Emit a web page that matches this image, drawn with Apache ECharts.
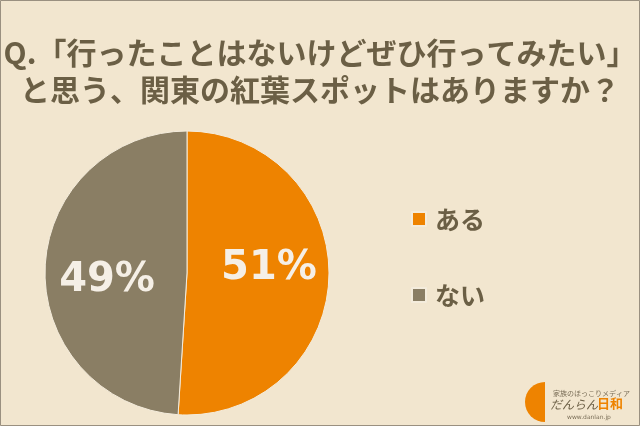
<!DOCTYPE html>
<html><head><meta charset="utf-8">
<script src="https://cdn.jsdelivr.net/npm/echarts@6/dist/echarts.min.js"></script>
<style>html,body{margin:0;padding:0;background:#F2E6CF;}#c{width:640px;height:426px;}</style>
</head><body><div id="c"></div>
<script>
var categories = ['ある', 'ない'];
var values = [51, 49];
var colors = ['#EE8300', '#8A7E64'];
var titleLines = ['Q.「行ったことはないけどぜひ行ってみたい」', 'と思う、関東の紅葉スポットはありますか？'];

var font = '"Noto Sans CJK JP", "Noto Sans", sans-serif';
var chart = echarts.init(document.getElementById('c'));
chart.setOption({
  backgroundColor: '#F2E6CF',
  animation: false,
  title: {
    text: titleLines.join('\n'),
    left: 'center', top: 29,
    textStyle: { fontFamily: font, fontSize: 30, fontWeight: 'bold', color: '#6B5F45', lineHeight: 37 }
  },
  legend: {
    orient: 'vertical', left: 411, top: 206, padding: 0,
    itemWidth: 14, itemHeight: 14, itemGap: 50, icon: 'rect',
    textStyle: { fontFamily: font, fontSize: 25, fontWeight: 'bold', color: '#6B5F45', lineHeight: 26, padding: [0, 0, 0, 4] },
    data: categories
  },
  series: [{
    type: 'pie',
    center: [187, 273], radius: [0, 142],
    startAngle: 90, clockwise: true,
    itemStyle: { borderColor: '#F4ECDC', borderWidth: 1 },
    label: {
      show: true, position: 'inside',
      formatter: '{c}%',
      fontFamily: '"DejaVu Sans", Verdana, sans-serif', fontSize: 40, fontWeight: 'bold', color: '#F5EFE6'
    },
    labelLine: { show: false },
    emphasis: { disabled: true },
    data: categories.map(function (n, i) {
      return { name: n, value: values[i], itemStyle: { color: colors[i] },
        label: { offset: i === 0 ? [8, -7] : [-6, 10] } };
    })
  }],
  graphic: [
    { type: 'rect', shape: { x: 0.5, y: 0.5, width: 639, height: 425 }, style: { fill: 'none', stroke: '#9A9080', lineWidth: 1 }, silent: true },
    { type: 'sector', shape: { cx: 545, cy: 402, r0: 0, r: 20, startAngle: Math.PI / 2, endAngle: Math.PI * 3 / 2 }, style: { fill: '#EE8300' } },
    { type: 'text', left: 553, top: 390, style: { text: '家族のほっこりメディア', fontFamily: font, fontSize: 7, fill: '#7A6E58' } },
    { type: 'text', left: 550, top: 398, style: { text: 'だんらん', fontFamily: font, fontSize: 12, fontStyle: 'italic', fill: '#6B5F45' } },
    { type: 'text', left: 597, top: 397, style: { text: '日和', fontFamily: font, fontSize: 13, fontWeight: 'bold', fill: '#EE8300' } },
    { type: 'text', left: 567, top: 414, style: { text: 'www.danlan.jp', fontFamily: 'DejaVu Sans, sans-serif', fontSize: 6, fill: '#7A6E58' } }
  ]
});
</script></body></html>
